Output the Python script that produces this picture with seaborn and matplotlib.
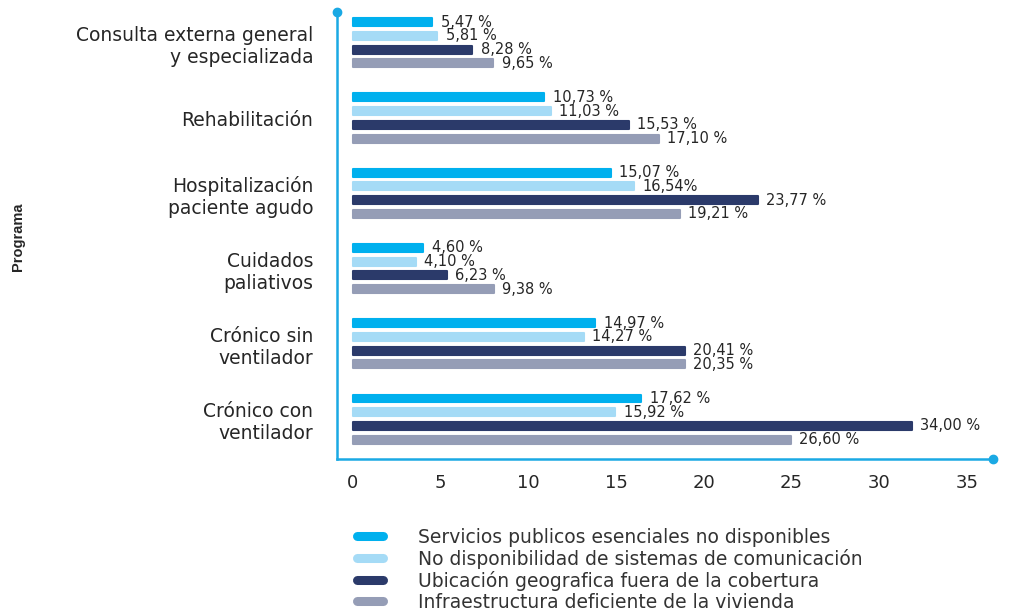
import matplotlib.pyplot as plt
from matplotlib.lines import Line2D
import pandas as pd
import seaborn as sns

# data
programs = [
    'Consulta externa general\ny especializada',
    'Rehabilitación',
    'Hospitalización\npaciente agudo',
    'Cuidados\npaliativos',
    'Crónico sin\nventilador',
    'Crónico con\nventilador',
]
causes = [
    'Servicios publicos esenciales no disponibles',
    'No disponibilidad de sistemas de comunicación',
    'Ubicación geografica fuera de la cobertura',
    'Infraestructura deficiente de la vivienda',
]
colors = ['#00b0ee', '#a5dbf6', '#2b3a6a', '#959db6']

# bar lengths as drawn on the axis
servicios = [4.53, 10.91, 14.69, 4.01, 13.82, 16.44]
comunicacion = [4.81, 11.27, 16.02, 3.59, 13.15, 14.95]
ubicacion = [6.80, 15.74, 23.07, 5.34, 18.91, 31.87]
vivienda = [8.00, 17.45, 18.64, 8.04, 18.91, 24.97]

# labels printed next to the bars
servicios_lbl = ['5,47 %', '10,73 %', '15,07 %', '4,60 %', '14,97 %', '17,62 %']
comunicacion_lbl = ['5,81 %', '11,03 %', '16,54%', '4,10 %', '14,27 %', '15,92 %']
ubicacion_lbl = ['8,28 %', '15,53 %', '23,77 %', '6,23 %', '20,41 %', '34,00 %']
vivienda_lbl = ['9,65 %', '17,10 %', '19,21 %', '9,38 %', '20,35 %', '26,60 %']

x_ticks = [0, 5, 10, 15, 20, 25, 30, 35]

axis_color = '#1aa9e4'
text_color = '#262626'

values = [servicios, comunicacion, ubicacion, vivienda]
labels = [servicios_lbl, comunicacion_lbl, ubicacion_lbl, vivienda_lbl]

rows = []
for cause, vals in zip(causes, values):
    for prog, v in zip(programs, vals):
        rows.append({'programa': prog, 'causa': cause, 'valor': v})
df = pd.DataFrame(rows)

sns.set_style('white')
plt.rcParams['font.family'] = ['DejaVu Sans']

fig = plt.figure(figsize=(10.11, 6.11), dpi=100)
ax = fig.add_axes([0.3333, 0.2488, 0.6489, 0.7316])

sns.barplot(
    data=df, y='programa', x='valor', hue='causa', order=programs,
    hue_order=causes, palette=colors, saturation=1, orient='h', width=0.73,
    gap=0.42, errorbar=None, legend=False, ax=ax
)

# rounded ends on the bars
for bar in ax.patches:
    bar.set_edgecolor(bar.get_facecolor())
    bar.set_linewidth(1.5)
    bar.set_joinstyle('round')

for container, lab in zip(ax.containers, labels):
    ax.bar_label(container, labels=lab, padding=6, fontsize=10.5, color=text_color)

ax.set_xlim(-0.91, 36.49)
ax.set_ylim(5.53, -0.41)
ax.set_xticks(x_ticks)
ax.set_xlabel('')
ax.set_ylabel('')

sns.despine(ax=ax)
for side in ['left', 'bottom']:
    ax.spines[side].set_color(axis_color)
    ax.spines[side].set_linewidth(1.8)

ax.tick_params(axis='x', length=0, pad=11, labelsize=13, labelcolor=text_color)
ax.tick_params(axis='y', length=7, width=1.5, color=axis_color, pad=10,
               labelsize=13.5, labelcolor=text_color)

# dots at the ends of the axes
ax.plot([-0.91], [-0.41], 'o', color=axis_color, ms=6, clip_on=False)
ax.plot([36.49], [5.53], 'o', color=axis_color, ms=6, clip_on=False)

fig.text(18 / 1011, 1 - 237 / 611, 'Programa', rotation=90, ha='center',
         va='center', fontsize=10.5, fontweight='bold', family='Liberation Sans',
         color=text_color)

handles = [Line2D([0], [0], color=c, lw=6.5, solid_capstyle='round') for c in colors]
fig.legend(handles, causes, loc='upper left', bbox_to_anchor=(357 / 1011, 1 - 528 / 611),
           frameon=False, fontsize=13.5, handlelength=1.4, handletextpad=1.85,
           labelspacing=0.1, borderpad=0, borderaxespad=0, labelcolor='#333333')

fig.savefig('out.png', dpi=100)
